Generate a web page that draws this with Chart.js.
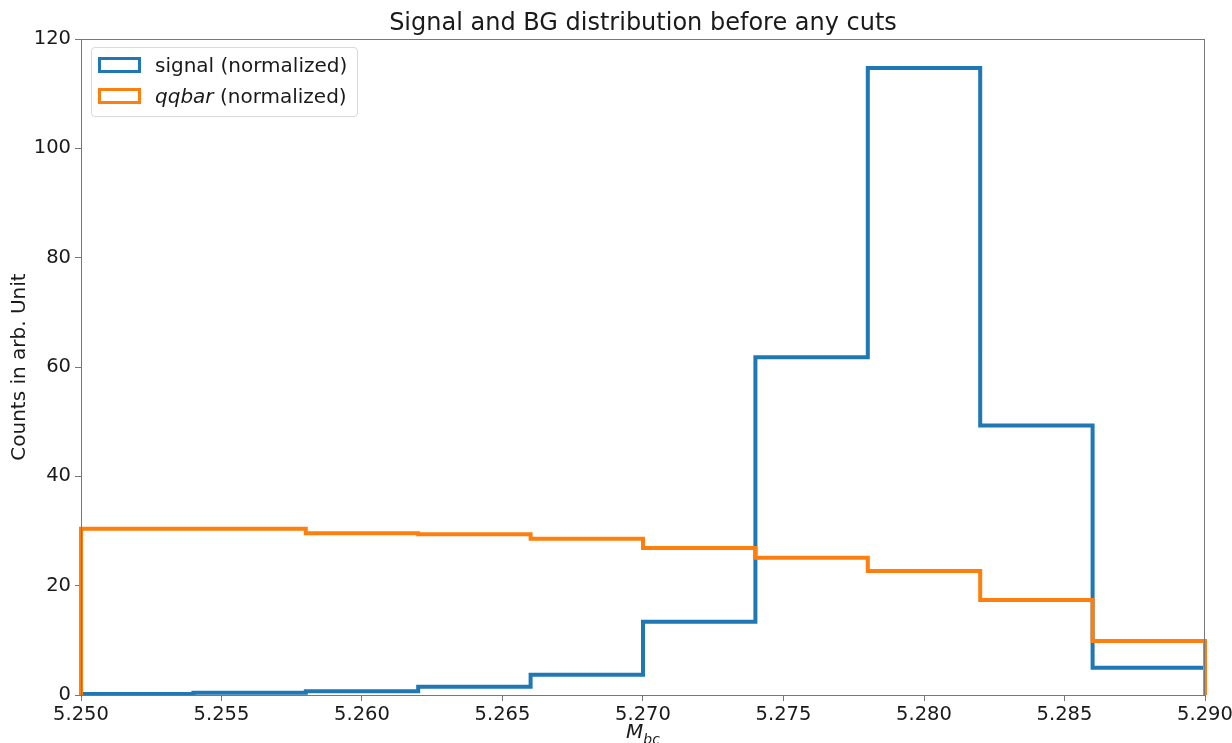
<!DOCTYPE html>
<html>
<head>
<meta charset="utf-8">
<script src="https://cdn.jsdelivr.net/npm/chart.js@4/dist/chart.umd.min.js"></script>
<style>
  html,body{margin:0;padding:0;background:#fff}
  #wrap{position:relative;width:1232px;height:743px}
  .legend{position:absolute;left:91px;top:47px;width:265px;height:68px;border:1px solid #d9d9d9;border-radius:4px;background:rgba(255,255,255,0.8);font-family:"DejaVu Sans",sans-serif;font-size:20px;color:#1a1a1a}
  .legend-item{position:absolute;left:6px;display:flex;align-items:center}
  .legend-box{width:37px;height:10px;border:3.5px solid;margin-right:14px}
</style>
</head>
<body>
<div id="wrap">
  <canvas id="c" width="1232" height="743"></canvas>
  <div class="legend">
    <div class="legend-item" style="top:5px"><div class="legend-box" style="border-color:#1f77b4"></div>signal (normalized)</div>
    <div class="legend-item" style="top:36px"><div class="legend-box" style="border-color:#ff7f0e"></div><i>qqbar</i>&nbsp;(normalized)</div>
  </div>
</div>
<script>
const EDGES=[5.250,5.254,5.258,5.262,5.266,5.270,5.274,5.278,5.282,5.286,5.290]
const SIGNAL=[0.2,0.4,0.7,1.5,3.7,13.4,61.8,114.7,49.3,5.0]
const QQBAR=[30.4,30.4,29.6,29.4,28.6,26.9,25.1,22.7,17.4,9.9]
const X_TICKS=[5.250,5.255,5.260,5.265,5.270,5.275,5.280,5.285,5.290]
const Y_TICKS=[0,20,40,60,80,100,120]

// closed step outline like matplotlib histtype='step'
function stepPts(vals){
  const pts=[{x:EDGES[0],y:0}]
  vals.forEach((v,i)=>pts.push({x:EDGES[i],y:v}))
  pts.push({x:EDGES[EDGES.length-1],y:vals[vals.length-1]})
  pts.push({x:EDGES[EDGES.length-1],y:0})
  return pts
}

const font='"DejaVu Sans", sans-serif'
const ac='#777',tc='#1a1a1a'

const frame={id:'frame',afterDraw(ch){
  const {ctx,chartArea:a}=ch
  ctx.save()
  ctx.strokeStyle=ac;ctx.lineWidth=1
  ctx.strokeRect(a.left+0.5,a.top+0.5,a.right-a.left-1,a.bottom-a.top)
  ctx.fillStyle=tc
  ctx.textAlign='center';ctx.textBaseline='alphabetic'
  ctx.font='24px '+font
  ctx.fillText('Signal and BG distribution before any cuts',(a.left+a.right)/2,30)
  // x label M_bc
  const cx=(a.left+a.right)/2
  ctx.textAlign='left'
  ctx.font='italic 20px '+font
  const mw=ctx.measureText('M').width
  ctx.font='italic 14px '+font
  const sw=ctx.measureText('bc').width
  const x0=cx-(mw+sw)/2
  ctx.font='italic 20px '+font
  ctx.fillText('M',x0,738)
  ctx.font='italic 14px '+font
  ctx.fillText('bc',x0+mw,744)
  // y label
  ctx.translate(25,(a.top+a.bottom)/2)
  ctx.rotate(-Math.PI/2)
  ctx.textAlign='center'
  ctx.font='20px '+font
  ctx.fillText('Counts in arb. Unit',0,0)
  ctx.restore()
}}

new Chart(document.getElementById('c'),{type:'line',data:{datasets:[
  {label:'signal (normalized)',data:stepPts(SIGNAL),borderColor:'#1f77b4',borderWidth:4,stepped:'before',pointRadius:0,fill:false,clip:false,order:2},
  {label:'qqbar (normalized)',data:stepPts(QQBAR),borderColor:'#ff7f0e',borderWidth:4,stepped:'before',pointRadius:0,fill:false,clip:false,order:1},
]},options:{responsive:false,animation:false,layout:{padding:{top:39,right:27,bottom:0,left:0}},
  plugins:{legend:{display:false},title:{display:false},tooltip:{enabled:false}},
  scales:{
    x:{type:'linear',min:5.25,max:5.29,
      afterBuildTicks:s=>{s.ticks=X_TICKS.map(v=>({value:v}))},
      afterFit:s=>{s.height=48;s.paddingRight=0;s.paddingLeft=0},
      ticks:{color:tc,font:{size:19.5,family:font},maxRotation:0,autoSkip:false,padding:2,callback:v=>v.toFixed(3)},
      grid:{drawOnChartArea:false,drawTicks:true,tickLength:6,color:ac},border:{color:ac}},
    y:{min:0,max:120,
      afterBuildTicks:s=>{s.ticks=Y_TICKS.map(v=>({value:v}))},
      afterFit:s=>{s.width=81},
      ticks:{color:tc,font:{size:19.5,family:font},padding:4},
      grid:{drawOnChartArea:false,drawTicks:true,tickLength:6,color:ac},border:{color:ac}}
  }},plugins:[frame]})
</script>
</body>
</html>
